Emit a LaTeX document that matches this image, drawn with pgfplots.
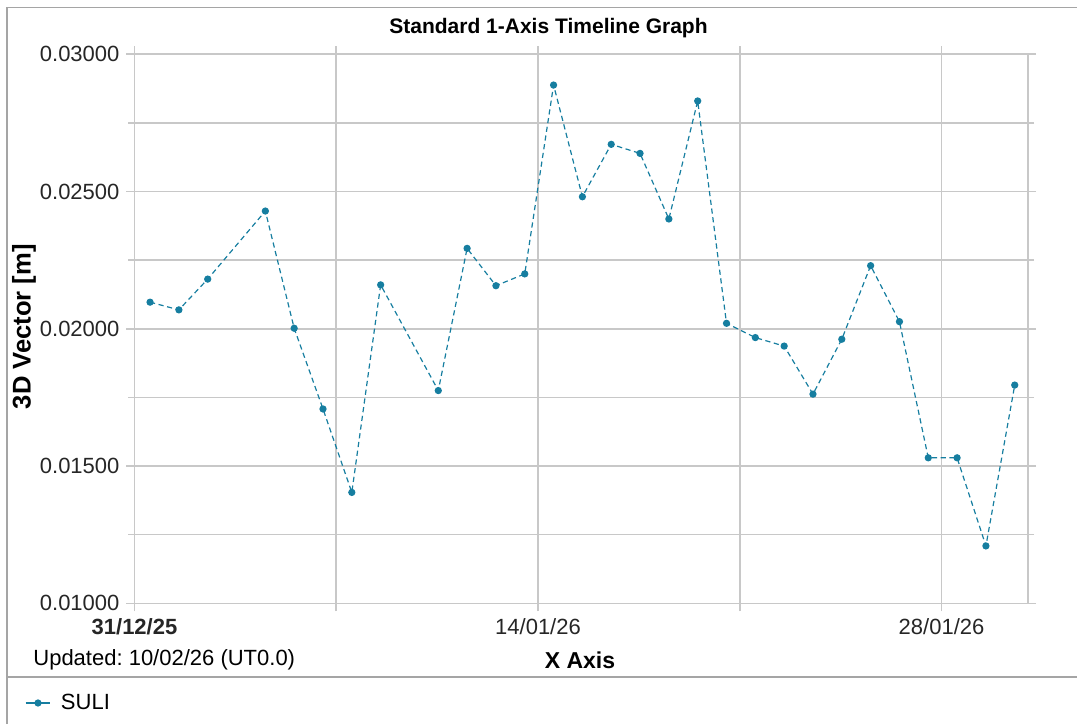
\documentclass[border=0pt]{standalone}
\usepackage{fontspec}
\setmainfont{Liberation Sans}
\usepackage{pgfplots}
\pgfplotsset{compat=1.18}
\definecolor{series}{RGB}{22,126,160}
\definecolor{gridgray}{RGB}{200,200,200}
\definecolor{framegray}{RGB}{165,165,165}
\frenchspacing
\begin{document}
\begin{tikzpicture}[x=0.5pt,y=0.5pt]
\path[use as bounding box] (0,0) rectangle (1077,724);
\draw[framegray,line width=0.6pt] (7,0) -- (7,716.5) -- (1077,716.5);
\draw[framegray,line width=0.6pt] (7,47) -- (1077,47);
\begin{axis}[
  at={(67.25pt,60.35pt)}, anchor=south west,
  scale only axis, width=446.75pt, height=274.5pt,
  xmin=0, xmax=31, ymin=0.01, ymax=0.03,
  xtick={0,7,14,21,28},
  xticklabels={\textbf{31/12/25},,14/01/26,,28/01/26},
  ytick={0.01,0.015,0.02,0.025,0.03},
  minor ytick={0.0125,0.0175,0.0225,0.0275},
  scaled y ticks=false,
  y tick label style={/pgf/number format/.cd, fixed, fixed zerofill, precision=5, assume math mode=true},
  tick label style={font=\fontsize{11}{13}\selectfont, text=black!85},
  grid=both,
  grid style={draw=gridgray, line width=0.8pt},
  minor grid style={draw=gridgray, line width=0.8pt},
  axis line style={draw=gridgray, line width=0.8pt},
  tick style={draw=gridgray, line width=0.8pt},
  tick align=outside,
  major tick length=4pt, minor tick length=3pt,
  legend style={draw=none, fill=none, at={(-0.123,-0.1816)}, anchor=west,
    font=\fontsize{11}{13}\selectfont, inner sep=0pt},
  legend image code/.code={\draw[mark repeat=2,mark phase=2,solid] plot coordinates {(0pt,0pt) (6.2pt,0pt) (12.4pt,0pt)};},
]
\addplot[color=series, line width=0.6pt, dash pattern=on 2.6pt off 1.8pt,
  mark=*, mark size=1.5pt, mark options={solid, fill=series}]
coordinates {
(0.54,0.02097) (1.54,0.02069) (2.54,0.02181) (4.54,0.02429) (5.54,0.02002)
(6.54,0.01708) (7.54,0.01404) (8.54,0.02160) (10.54,0.01775) (11.54,0.02293)
(12.54,0.02157) (13.54,0.02200) (14.54,0.02888) (15.54,0.02481) (16.54,0.02672)
(17.54,0.02639) (18.54,0.02400) (19.54,0.02830) (20.54,0.02020) (21.54,0.01968)
(22.54,0.01937) (23.54,0.01762) (24.54,0.01962) (25.54,0.02230) (26.54,0.02026)
(27.54,0.01530) (28.54,0.01530) (29.54,0.01209) (30.54,0.01795)
};
\addlegendentry{\hspace{3pt}SULI}
\end{axis}
\node[font=\bfseries\fontsize{10.5}{12}\selectfont] at (548.5,696) {Standard 1-Axis Timeline Graph};
\node[font=\bfseries\fontsize{12.8}{14}\selectfont, rotate=90] at (24,397.3) {3D Vector [m]};
\node[font=\bfseries\fontsize{11.5}{13}\selectfont] at (580,64) {X Axis};
\node[font=\fontsize{11}{13}\selectfont, anchor=west, inner sep=0pt] at (33,64) {Updated: 10/02/26 (UT0.0)};
\end{tikzpicture}
\end{document}
